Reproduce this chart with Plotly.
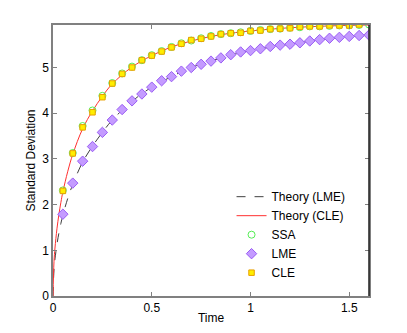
import plotly.graph_objects as go

# sample times of the simulated points
t_pts = [0.05, 0.10, 0.15, 0.20, 0.25, 0.30, 0.35, 0.40, 0.45, 0.50,
         0.55, 0.60, 0.65, 0.70, 0.75, 0.80, 0.85, 0.90, 0.95, 1.00,
         1.05, 1.10, 1.15, 1.20, 1.25, 1.30, 1.35, 1.40, 1.45, 1.50,
         1.55, 1.60]

ssa_sd = [2.31, 3.13, 3.72, 4.06, 4.38, 4.66, 4.87, 5.02, 5.16, 5.27,
          5.36, 5.45, 5.53, 5.59, 5.64, 5.69, 5.73, 5.75, 5.77, 5.80,
          5.82, 5.84, 5.85, 5.87, 5.88, 5.90, 5.90, 5.91, 5.92, 5.92,
          5.93, 5.94]

lme_sd = [1.79, 2.47, 2.95, 3.27, 3.58, 3.85, 4.08, 4.27, 4.42, 4.57,
          4.71, 4.80, 4.92, 5.00, 5.07, 5.14, 5.21, 5.28, 5.34, 5.37,
          5.41, 5.46, 5.49, 5.51, 5.54, 5.58, 5.61, 5.64, 5.66, 5.68,
          5.70, 5.71]

cle_t = t_pts[:-1]
cle_sd = [2.30, 3.12, 3.69, 4.02, 4.35, 4.65, 4.86, 5.00, 5.16, 5.26,
          5.35, 5.44, 5.52, 5.60, 5.63, 5.68, 5.73, 5.75, 5.76, 5.80,
          5.81, 5.84, 5.85, 5.86, 5.89, 5.90, 5.90, 5.92, 5.92, 5.92,
          5.94]

# theory curves
t_th = [0, 0.005, 0.01, 0.02, 0.03, 0.04, 0.05, 0.075, 0.10, 0.15, 0.20,
        0.25, 0.30, 0.40, 0.50, 0.60, 0.70, 0.80, 0.90, 1.00, 1.20, 1.40, 1.60]
cle_th = [0, 0.75, 1.05, 1.47, 1.79, 2.05, 2.28, 2.73, 3.10, 3.66, 4.05,
          4.37, 4.64, 5.01, 5.26, 5.45, 5.58, 5.68, 5.75, 5.80, 5.87, 5.91, 5.93]
lme_th = [0, 0.57, 0.81, 1.13, 1.38, 1.59, 1.77, 2.14, 2.44, 2.93, 3.28,
          3.58, 3.85, 4.26, 4.57, 4.80, 5.00, 5.14, 5.27, 5.37, 5.51, 5.63, 5.71]

fig = go.Figure()

fig.add_trace(go.Scatter(
    x=t_th, y=lme_th, mode="lines", name="Theory (LME)",
    line=dict(color="#404040", width=1, dash="dash"), line_shape="spline"
))
fig.add_trace(go.Scatter(
    x=t_th, y=cle_th, mode="lines", name="Theory (CLE)",
    line=dict(color="#ff3030", width=1), line_shape="spline"
))
fig.add_trace(go.Scatter(
    x=t_pts, y=ssa_sd, mode="markers", name="SSA",
    marker=dict(symbol="circle-open", size=7, color="#55ee55", line=dict(width=1))
))
fig.add_trace(go.Scatter(
    x=t_pts, y=lme_sd, mode="markers", name="LME",
    marker=dict(symbol="diamond", size=8, color="#c49bff",
                line=dict(color="#9a5cf5", width=1))
))
fig.add_trace(go.Scatter(
    x=cle_t, y=cle_sd, mode="markers", name="CLE",
    marker=dict(symbol="square", size=5.5, color="#ffee00",
                line=dict(color="#e8a000", width=1))
))

axis_style = dict(
    showgrid=False, zeroline=False, automargin=False,
    showline=True, linecolor="#808080", linewidth=1.5, mirror="ticks",
    ticks="inside", ticklen=4, tickcolor="#808080",
    tickfont=dict(size=12, color="#000000"),
)

fig.update_xaxes(
    range=[0, 1.6], tickvals=[0, 0.5, 1, 1.5], ticktext=["0", "0.5", "1", "1.5"],
    title=dict(text="Time", font=dict(size=12, color="#000000"), standoff=0),
    ticklabelstandoff=0,
    **axis_style
)
fig.update_yaxes(
    range=[0, 5.93], tickvals=[0, 1, 2, 3, 4, 5],
    title=dict(text="Standard Deviation", font=dict(size=12, color="#000000"), standoff=4),
    **axis_style
)

# right edge is drawn darker in the original
fig.add_shape(type="line", xref="paper", yref="paper", x0=1, x1=1, y0=0, y1=1,
              line=dict(color="#202020", width=1.5))

# the page body adds an 8px margin, so the figure is sized to fit inside it
fig.update_layout(
    width=391, height=317,
    margin=dict(l=45, r=30, t=17, b=29),
    paper_bgcolor="#ffffff", plot_bgcolor="#ffffff",
    font=dict(family="Liberation Sans, Arial, sans-serif", size=12, color="#000000"),
    showlegend=True,
    legend=dict(x=0.565, y=0.42, xanchor="left", yanchor="top",
                bgcolor="rgba(0,0,0,0)", tracegroupgap=0,
                font=dict(size=12), itemwidth=30),
)

fig.write_html("out.html")
